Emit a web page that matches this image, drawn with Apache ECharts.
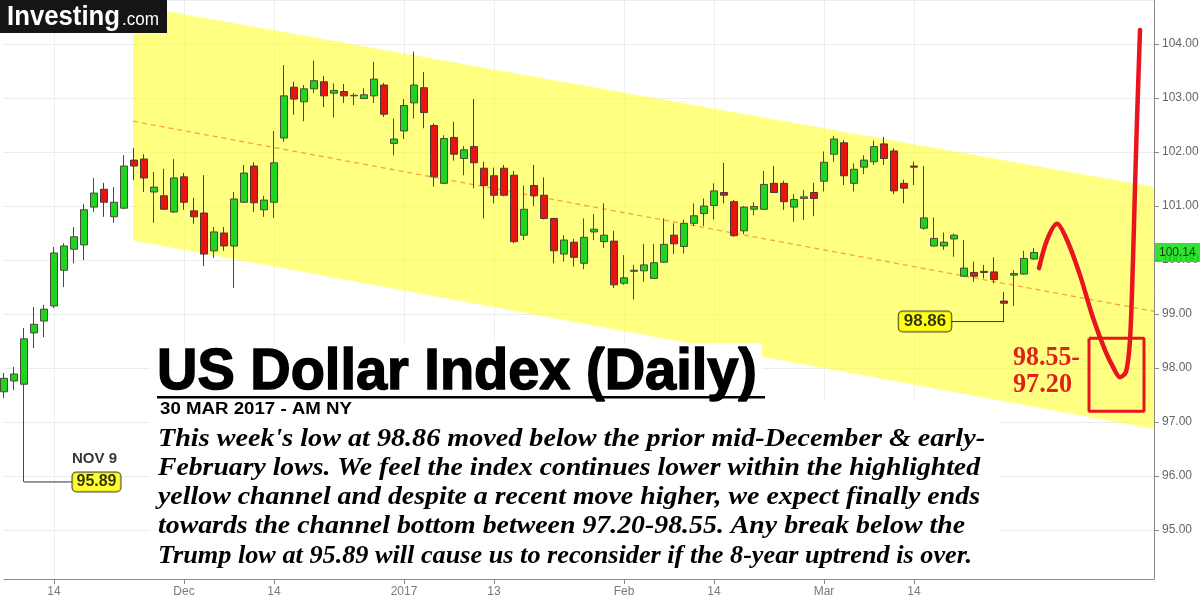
<!DOCTYPE html>
<html><head><meta charset="utf-8">
<script src="https://cdn.jsdelivr.net/npm/echarts@6/dist/echarts.min.js"></script>
<style>html,body{margin:0;padding:0;background:#fff}#c{width:1200px;height:600px}</style>
</head><body><div id="c"></div>
<script>
// ---------- data ----------
const dates = [
 '2016-11-07','2016-11-08','2016-11-09','2016-11-10','2016-11-11','2016-11-14','2016-11-15','2016-11-16','2016-11-17','2016-11-18',
 '2016-11-21','2016-11-22','2016-11-23','2016-11-24','2016-11-25','2016-11-28','2016-11-29','2016-11-30',
 '2016-12-01','2016-12-02','2016-12-05','2016-12-06','2016-12-07','2016-12-08','2016-12-09','2016-12-12','2016-12-13','2016-12-14',
 '2016-12-15','2016-12-16','2016-12-19','2016-12-20','2016-12-21','2016-12-22','2016-12-23','2016-12-26','2016-12-27','2016-12-28',
 '2016-12-29','2016-12-30',
 '2017-01-02','2017-01-03','2017-01-04','2017-01-05','2017-01-06','2017-01-09','2017-01-10','2017-01-11','2017-01-12','2017-01-13',
 '2017-01-16','2017-01-17','2017-01-18','2017-01-19','2017-01-20','2017-01-23','2017-01-24','2017-01-25','2017-01-26','2017-01-27',
 '2017-01-30','2017-01-31',
 '2017-02-01','2017-02-02','2017-02-03','2017-02-06','2017-02-07','2017-02-08','2017-02-09','2017-02-10','2017-02-13','2017-02-14',
 '2017-02-15','2017-02-16','2017-02-17','2017-02-20','2017-02-21','2017-02-22','2017-02-23','2017-02-24','2017-02-27','2017-02-28',
 '2017-03-01','2017-03-02','2017-03-03','2017-03-06','2017-03-07','2017-03-08','2017-03-09','2017-03-10','2017-03-13','2017-03-14',
 '2017-03-15','2017-03-16','2017-03-17','2017-03-20','2017-03-21','2017-03-22','2017-03-23','2017-03-24','2017-03-27','2017-03-28',
 '2017-03-29','2017-03-30','2017-03-31',
 '2017-04-03','2017-04-04','2017-04-05','2017-04-06','2017-04-07','2017-04-10','2017-04-11','2017-04-12','2017-04-13','2017-04-14','2017-04-17'
];
const opens = [97.56,97.76,97.70,98.65,98.87,99.15,99.81,100.20,100.28,100.98,
 101.31,100.80,100.96,101.85,101.87,101.26,101.19,100.89,101.54,100.91,
 100.87,100.17,100.50,100.26,101.07,101.74,100.93,101.07,102.26,103.20,
 102.93,103.17,103.30,103.09,103.12,103.04,102.99,103.04,103.24,102.16,
 102.39,102.91,103.19,102.49,101.42,102.27,101.88,102.10,101.70,101.56,
 101.70,101.57,100.46,101.38,101.20,100.77,100.11,100.33,99.94,100.52,
 100.34,100.35,99.57,99.79,99.80,99.66,99.96,100.46,100.25,100.68,
 100.86,101.01,101.25,101.08,100.54,100.94,100.94,101.42,101.42,100.98,
 101.14,101.25,101.46,101.96,102.17,101.42,101.72,101.82,102.15,102.02,
 101.42,101.74,100.59,100.26,100.26,100.39,99.70,99.77,99.79,99.78,
 99.24,99.72,99.74,100.02];
const closes = [97.81,97.89,98.54,98.81,99.09,100.13,100.26,100.43,100.93,101.24,
 101.07,101.07,101.74,101.74,101.52,101.35,100.94,101.52,101.07,100.80,
 100.11,100.52,100.26,101.13,101.61,101.06,101.11,101.80,103.04,102.98,
 103.17,103.32,103.04,103.14,103.04,103.05,103.06,103.35,102.70,102.24,
 102.86,103.24,102.73,101.54,102.25,101.96,102.04,101.80,101.38,101.20,
 101.20,100.34,100.94,101.19,100.77,100.17,100.37,100.05,100.42,100.57,
 100.46,99.54,99.67,99.81,99.91,99.95,100.29,100.30,100.68,100.82,
 101.00,101.28,101.20,100.45,100.98,100.99,101.40,101.25,101.08,101.12,
 101.17,101.14,101.81,102.24,101.56,101.68,101.85,102.10,101.88,101.28,
 101.33,101.72,100.78,100.40,100.33,100.46,99.85,99.70,99.77,99.64,
 99.20,99.75,100.03,100.14];
const lows = [97.44,97.59,95.89,98.37,98.57,99.11,99.50,99.94,100.00,100.89,
 100.80,100.69,100.94,101.48,101.26,100.69,100.93,100.87,100.93,100.67,
 99.89,100.04,100.17,99.48,101.06,100.89,100.80,100.78,102.19,102.69,
 102.57,103.09,102.83,102.64,102.91,102.87,102.98,102.91,102.65,101.94,
 102.24,102.62,102.44,101.36,101.41,101.84,101.57,101.33,100.77,101.05,
 101.18,100.31,100.37,101.00,100.75,99.94,99.97,99.88,99.83,100.37,
 100.22,99.48,99.54,99.27,99.60,99.65,99.95,100.11,100.12,100.63,
 100.63,100.75,101.05,100.43,100.48,100.83,100.93,101.24,100.93,100.71,
 100.74,100.81,101.27,101.82,101.39,101.27,101.59,101.76,101.76,101.22,
 101.05,101.39,100.56,100.25,100.19,100.06,99.69,99.60,99.66,99.57,
 98.86,99.15,99.73,100.00];
const highs = [97.91,98.02,98.74,99.13,99.17,100.24,100.31,100.61,101.04,101.52,
 101.43,101.35,101.94,102.07,101.96,101.63,101.69,101.87,101.61,101.15,
 101.57,100.61,100.61,101.26,101.76,101.81,101.19,102.39,103.61,103.30,
 103.24,103.69,103.41,103.27,103.26,103.09,103.18,103.67,103.28,102.62,
 102.98,103.86,103.48,102.53,102.31,102.56,102.11,102.98,101.82,101.71,
 101.76,101.65,101.38,101.76,101.53,100.78,100.46,100.39,100.77,100.85,
 101.05,100.54,100.09,99.91,100.30,100.30,100.77,100.68,100.75,101.05,
 101.14,101.42,101.80,101.11,101.00,101.07,101.65,101.74,101.47,101.22,
 101.30,101.43,102.01,102.30,102.22,101.79,101.94,102.21,102.28,102.07,
 101.49,101.82,101.74,100.79,100.51,100.49,100.37,99.97,99.91,100.05,
 99.41,99.81,100.17,100.22];
const xTickIdx  = [5, 18, 27, 40, 49, 62, 71, 82, 91];
const xTickText = ['14','Dec','14','2017','13','Feb','14','Mar','14'];
const lastPrice = 100.14;

// channel (x in trading-day index units)
const channelIdx    = [12.9, 115];
const channelTop    = [104.72, 101.35];
const channelBottom = [100.36, 96.87];
const channelMid    = [102.57, 99.05];

// projected path & target box
const pathIdx = [103.5,104.3,105.3,106.3,107.6,108.9,110.1,110.9,111.6,112.2,112.6,112.9,113.1,113.3,113.6];
const pathVal = [99.85,100.37,100.67,100.37,99.72,98.93,98.33,98.02,97.83,97.93,98.52,100.0,101.35,102.59,104.26];
const targetIdx = [108.5, 114];
const targetVal = [98.55, 97.20];

// callouts
const novLowIdx = 2,   novLowVal = 95.89,  novLabelIdx = 9.25;
const weekLowIdx = 100, weekLowVal = 98.86, weekLabelIdx = 92.1;

const bodyLines = [
 "This week's low at 98.86 moved below the prior mid-December & early-",
 "February lows. We feel the index continues lower within the highlighted",
 "yellow channel and despite a recent move higher, we expect finally ends",
 "towards the channel bottom between 97.20-98.55. Any break below the",
 "Trump low at 95.89 will cause us to reconsider if the 8-year uptrend is over."
];

// ---------- build ----------
const candles = opens.map((o, i) => [o, closes[i], lows[i], highs[i]]);
const chart = echarts.init(document.getElementById('c'));
const mctx = document.createElement('canvas').getContext('2d');
function fitScale(text, font, w) { mctx.font = font; return w / mctx.measureText(text).width; }

const isTick = (idx) => xTickIdx.indexOf(idx) >= 0;

const bodyFont = 'italic bold 25px "Liberation Serif"';
const bodyW = [827, 822, 822, 807, 814];
const bodyY = [440, 469, 498, 527, 557];
const titleFont = 'bold 57px "Liberation Sans"';
const dateFont = 'bold 16px "Liberation Sans"';
const redFont = 'bold 28px "Liberation Serif"';

const graphics = [
  {type:'rect', shape:{x:0,y:0,width:167,height:33}, style:{fill:'#151515'}, z:20},
  {type:'text', x:7, y:17, scaleX: fitScale('Investing','bold 28px "Liberation Sans"',113),
   style:{text:'Investing', font:'bold 28px "Liberation Sans"', fill:'#fff', textVerticalAlign:'middle'}, z:21},
  {type:'text', x:122, y:20, scaleX: fitScale('.com','18px "Liberation Sans"',37),
   style:{text:'.com', font:'18px "Liberation Sans"', fill:'#fff', textVerticalAlign:'middle'}, z:21},
  {type:'rect', shape:{x:150,y:343,width:612,height:57}, style:{fill:'#fff'}, z:10},
  {type:'rect', shape:{x:150,y:400,width:850,height:179}, style:{fill:'#fff'}, z:10},
  {type:'text', x:157, y:373, scaleX: fitScale('US Dollar Index (Daily)', titleFont, 600),
   style:{text:'US Dollar Index (Daily)', font:titleFont, fill:'#000', stroke:'#000', lineWidth:1.5, textVerticalAlign:'middle'}, z:12},
  {type:'rect', shape:{x:157,y:396,width:608,height:2.5}, style:{fill:'#000'}, z:12},
  {type:'text', x:160, y:410, scaleX: fitScale('30 MAR 2017 - AM NY', dateFont, 192),
   style:{text:'30 MAR 2017 - AM NY', font:dateFont, fill:'#000', textVerticalAlign:'middle'}, z:12},
  {type:'text', x:1013, y:358, scaleX: fitScale('98.55-', redFont, 67),
   style:{text:'98.55-', font:redFont, fill:'#e0201c', textVerticalAlign:'middle'}, z:12},
  {type:'text', x:1013, y:385, scaleX: fitScale('97.20', redFont, 59),
   style:{text:'97.20', font:redFont, fill:'#e0201c', textVerticalAlign:'middle'}, z:12}
];
bodyLines.forEach((t, k) => {
  graphics.push({type:'text', x:158, y:bodyY[k], scaleX: fitScale(t, bodyFont, bodyW[k]),
    style:{text:t, font:bodyFont, fill:'#000', textVerticalAlign:'middle'}, z:12});
});

const labelStyle = {show:true, position:'inside', color:'#000', fontWeight:'bold', fontFamily:'Liberation Sans',
  backgroundColor:'#ffff00', borderColor:'#222', borderWidth:1, borderRadius:4};

const option = {
  animation: false,
  backgroundColor: '#fff',
  grid: {left: 4, right: 46, top: 0, bottom: 21, containLabel: false, outerBoundsMode: 'none'},
  xAxis: [
    {type:'category', data: dates, boundaryGap: false,
     axisLine:{show:true, onZero:false, lineStyle:{color:'#8a8a8a'}},
     axisTick:{show:true, interval:(i)=>isTick(i), length:5, lineStyle:{color:'#8a8a8a'}},
     axisLabel:{interval:(i)=>isTick(i), formatter:(v, i)=>xTickText[xTickIdx.indexOf(i)] || '',
       color:'#7a7a7a', fontSize:12, fontFamily:'Liberation Sans', margin:7},
     splitLine:{show:true, interval:(i)=>isTick(i), lineStyle:{color:'#efefef'}}},
    {type:'value', min:0, max:115, show:false, axisLine:{onZero:false}}
  ],
  yAxis: [{type:'value', position:'right', min:94.093, max:104.815, splitNumber:10, scale:true,
    axisLine:{show:true, onZero:false, lineStyle:{color:'#8a8a8a'}},
    axisTick:{show:true, length:5, lineStyle:{color:'#8a8a8a'}},
    axisLabel:{formatter:(v)=>v.toFixed(2), showMinLabel:false, showMaxLabel:false,
      color:'#666', fontSize:12, fontFamily:'Liberation Sans', margin:8},
    splitLine:{show:true, lineStyle:{color:'#ececec'}}}],
  series: [
    {type:'custom', xAxisIndex:1, yAxisIndex:0, silent:true, z:1,
     data:[[channelIdx[0], channelTop[0]]],
     renderItem:(params, api)=>{
       const pts = [api.coord([channelIdx[0], channelTop[0]]), api.coord([channelIdx[1], channelTop[1]]),
                    api.coord([channelIdx[1], channelBottom[1]]), api.coord([channelIdx[0], channelBottom[0]])];
       return {type:'polygon', shape:{points:pts}, style:{fill:'rgba(255,255,30,0.56)'}};
     }},
    {type:'line', xAxisIndex:1, silent:true, z:2, symbol:'none',
     data: channelIdx.map((x,k)=>[x, channelMid[k]]),
     lineStyle:{color:'#f5a445', width:1.3, type:[5,4]}},
    {type:'candlestick', name:'USDX', xAxisIndex:0, yAxisIndex:0, barWidth:7, clip:false, z:3,
     data: candles,
     itemStyle:{color:'#1fd41f', color0:'#e8140e', borderColor:'#4a4a3a', borderColor0:'#4a3a3a', borderWidth:1}},
    {type:'line', xAxisIndex:1, silent:true, z:4, symbol:'none',
     data:[[novLowIdx, novLowVal],[novLabelIdx-2.4, novLowVal]], lineStyle:{color:'#333', width:1}},
    {type:'line', xAxisIndex:1, silent:true, z:4, symbol:'none',
     data:[[weekLabelIdx+2.6, weekLowVal],[weekLowIdx, weekLowVal]], lineStyle:{color:'#333', width:1}},
    {type:'line', xAxisIndex:1, silent:true, z:5, symbol:'none', smooth:0.3,
     data: pathIdx.map((x,k)=>[x, pathVal[k]]), lineStyle:{color:'#e8141e', width:4.5, cap:'round', join:'round'}},
    {type:'line', xAxisIndex:1, silent:true, z:5, symbol:'none',
     data:[[targetIdx[0],targetVal[0]],[targetIdx[1],targetVal[0]],[targetIdx[1],targetVal[1]],[targetIdx[0],targetVal[1]],[targetIdx[0],targetVal[0]]],
     lineStyle:{color:'#e8141e', width:3}},
    {type:'scatter', xAxisIndex:1, silent:true, z:6, symbolSize:0, clip:false,
     data:[
       {value:[novLabelIdx, novLowVal], label:Object.assign({}, labelStyle, {formatter:novLowVal.toFixed(2), fontSize:16, padding:[2,4,1,4]})},
       {value:[weekLabelIdx, weekLowVal], label:Object.assign({}, labelStyle, {formatter:weekLowVal.toFixed(2), fontSize:17, padding:[2,5,1,5]})},
       {value:[novLabelIdx-0.2, novLowVal], label:{show:true, position:'inside', offset:[0,-23], formatter:'NOV 9',
          color:'#000', fontWeight:'bold', fontSize:15, fontFamily:'Liberation Sans'}},
       {value:[115, lastPrice], label:{show:true, position:'right', distance:1, formatter:lastPrice.toFixed(2),
          backgroundColor:'#00dc00', color:'#111', fontSize:12, fontFamily:'Liberation Sans', padding:[4,5,3,4]}}
     ]}
  ],
  graphic: graphics
};
chart.setOption(option);
</script></body></html>
